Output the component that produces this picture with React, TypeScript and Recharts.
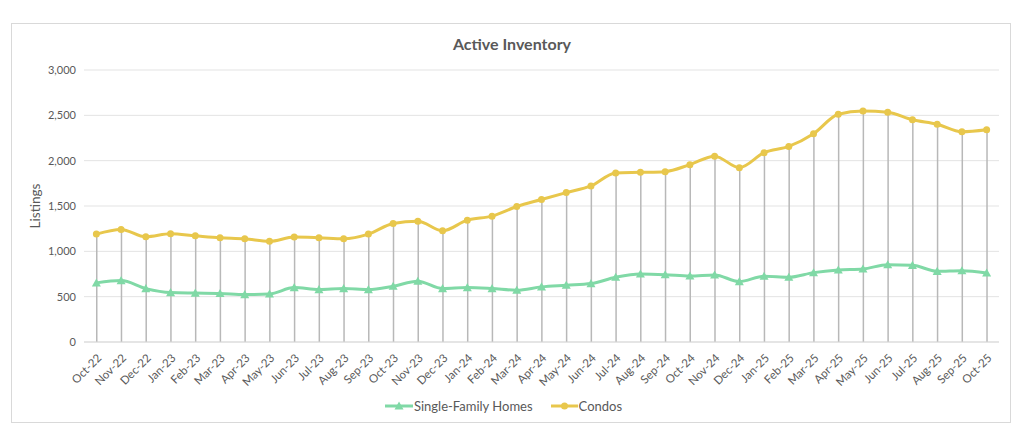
import React from 'react';
import { ComposedChart, Line, Bar, XAxis, YAxis, CartesianGrid, Legend } from 'recharts';

const months = [
  'Oct-22', 'Nov-22', 'Dec-22', 'Jan-23', 'Feb-23', 'Mar-23', 'Apr-23', 'May-23', 'Jun-23', 'Jul-23',
  'Aug-23', 'Sep-23', 'Oct-23', 'Nov-23', 'Dec-23', 'Jan-24', 'Feb-24', 'Mar-24', 'Apr-24', 'May-24',
  'Jun-24', 'Jul-24', 'Aug-24', 'Sep-24', 'Oct-24', 'Nov-24', 'Dec-24', 'Jan-25', 'Feb-25', 'Mar-25',
  'Apr-25', 'May-25', 'Jun-25', 'Jul-25', 'Aug-25', 'Sep-25', 'Oct-25',
];

const singleFamily = [
  652, 677, 589, 545, 540, 536, 523, 530, 600, 578,
  589, 578, 615, 670, 589, 600, 589, 571, 608, 626,
  644, 714, 750, 743, 728, 740, 666, 725, 714, 765,
  794, 805, 853, 846, 780, 787, 762,
];

const condos = [
  1190, 1242, 1160, 1193, 1171, 1150, 1139, 1110, 1157, 1150,
  1139, 1190, 1308, 1333, 1226, 1344, 1388, 1494, 1572, 1648,
  1721, 1864, 1871, 1879, 1956, 2050, 1923, 2088, 2157, 2297,
  2512, 2549, 2534, 2451, 2402, 2319, 2341,
];

const yTicks = [0, 500, 1000, 1500, 2000, 2500, 3000];

const data = months.map((m, i) => ({ month: m, sfh: singleFamily[i], condos: condos[i] }));

const GREEN = '#80d9a6';
const YELLOW = '#e8c74c';
const TEXT = '#595959';
const FONT = 'Lato, "Open Sans", sans-serif';

const Triangle = ({ cx, cy }: any) => {
  if (cx == null || cy == null) return null;
  const s = 4.5;
  return <path d={`M${cx},${cy - s}L${cx + s},${cy + s * 0.8}L${cx - s},${cy + s * 0.8}Z`} fill={GREEN} />;
};

const XTick = ({ x, y, payload }: any) => (
  <g transform={`translate(${x + 3},${y + 6})`}>
    <text x={0} y={0} dy={4} textAnchor="end" transform="rotate(-45)" fill={TEXT} fontSize={11.5} fontFamily={FONT}>
      {payload.value}
    </text>
  </g>
);

const LegendContent = () => (
  <div style={{ display: 'flex', justifyContent: 'center', alignItems: 'center', height: 20, fontFamily: FONT, fontSize: 13, color: TEXT }}>
    <svg width={28} height={12} style={{ marginRight: 1 }}>
      <line x1={0} y1={6} x2={28} y2={6} stroke={GREEN} strokeWidth={3} />
      <path d="M14,1.5L18.5,9.6L9.5,9.6Z" fill={GREEN} />
    </svg>
    <span style={{ marginRight: 18 }}>Single-Family Homes</span>
    <svg width={27} height={12} style={{ marginRight: 1 }}>
      <line x1={0} y1={6} x2={27} y2={6} stroke={YELLOW} strokeWidth={3} />
      <circle cx={13.5} cy={6} r={3.5} fill={YELLOW} />
    </svg>
    <span>Condos</span>
  </div>
);

export default function App() {
  return (
    <div style={{ position: 'relative', width: 1016, height: 425, fontFamily: FONT }}>
      <div
        style={{
          position: 'absolute', left: 3, top: 15, width: 1000, height: 400,
          border: '1.5px solid #d9d9d9', boxSizing: 'border-box',
        }}
      />
      <div
        style={{
          position: 'absolute', left: 0, top: 26, width: 1008, textAlign: 'center',
          fontSize: 16, fontWeight: 700, color: TEXT,
        }}
      >
        Active Inventory
      </div>
      <div style={{ position: 'absolute', left: 0, top: 0 }}>
        <ComposedChart width={1016} height={425} data={data} margin={{ top: 62, right: 25, left: 0, bottom: 17 }}>
          <CartesianGrid vertical={false} stroke="#e3e3e3" strokeWidth={1} />
          <XAxis
            dataKey="month"
            scale="band"
            interval={0}
            height={54}
            tick={<XTick />}
            tickLine={false}
            axisLine={{ stroke: '#d9d9d9' }}
          />
          <YAxis
            width={76}
            domain={[0, 3000]}
            ticks={yTicks}
            tickFormatter={(v: number) => v.toLocaleString('en-US')}
            tick={{ fill: TEXT, fontSize: 11, fontFamily: FONT }}
            tickLine={false}
            axisLine={false}
            label={{ value: 'Listings', angle: -90, position: 'insideLeft', offset: 27, fill: TEXT, fontSize: 13.5, fontFamily: FONT, style: { textAnchor: 'middle' } }}
          />
          <Bar dataKey="condos" barSize={1.5} fill="#b8b8b8" isAnimationActive={false} legendType="none" />
          <Line
            type="monotone"
            dataKey="sfh"
            name="Single-Family Homes"
            stroke={GREEN}
            strokeWidth={3}
            dot={<Triangle />}
            activeDot={false}
            isAnimationActive={false}
          />
          <Line
            type="monotone"
            dataKey="condos"
            name="Condos"
            stroke={YELLOW}
            strokeWidth={3}
            dot={{ r: 3.5, fill: YELLOW, stroke: YELLOW, strokeWidth: 0 }}
            activeDot={false}
            isAnimationActive={false}
          />
          <Legend verticalAlign="bottom" content={<LegendContent />} />
        </ComposedChart>
      </div>
    </div>
  );
}
